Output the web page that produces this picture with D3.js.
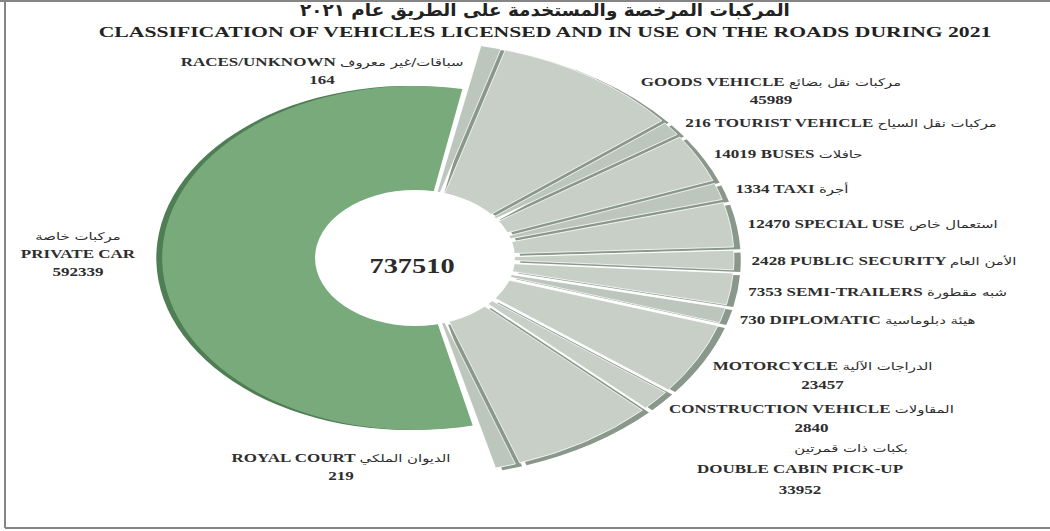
<!DOCTYPE html>
<html>
<head>
<meta charset="utf-8">
<script src="https://cdn.jsdelivr.net/npm/d3@7"></script>
<style>
  html, body { margin: 0; padding: 0; background: #fff; }
</style>
</head>
<body>
<script>
// values, clockwise from private car
const categoriesEn = ["PRIVATE CAR", "RACES/UNKNOWN", "GOODS VEHICLE", "TOURIST VEHICLE", "BUSES", "TAXI",
  "SPECIAL USE", "PUBLIC SECURITY", "SEMI-TRAILERS", "DIPLOMATIC", "MOTORCYCLE",
  "CONSTRUCTION VEHICLE", "DOUBLE CABIN PICK-UP", "ROYAL COURT"];
const categoriesAr = ["مركبات خاصة", "سباقات/غير معروف", "مركبات نقل بضائع", "مركبات نقل السياح", "حافلات", "أجرة",
  "استعمال خاص", "الأمن العام", "شبه مقطورة", "هيئة دبلوماسية", "الدراجات الآلية",
  "المقاولات", "بكبات ذات قمرتين", "الديوان الملكي"];
const vehicleCounts = [592339, 164, 45989, 216, 14019, 1334, 12470, 2428, 7353, 730, 23457, 2840, 33952, 219];

const titleAr = "المركبات المرخصة والمستخدمة على الطريق عام ٢٠٢١";
const titleEn = "CLASSIFICATION OF VEHICLES LICENSED AND IN USE ON THE ROADS DURING 2021";

function main(){
    const width = 1050;
    const height = 531;
    const cx = 415, cy = 258;
    const sx = 1.47;          // the picture is stretched sideways
    const textSx = 1.42;
    const innerR = 67, greenR = 172, greyR = 217;
    const rad = d => d * Math.PI / 180;

    const rows = categoriesEn.map((en, i) => ({en: en, ar: categoriesAr[i], value: vehicleCounts[i]}));
    const privateCar = rows[0];
    const others = rows.slice(1);

    const svg = d3.select("body").append("svg")
        .attr("width", width)
        .attr("height", height);

    // frame
    svg.append("path")
        .attr("d", "M0,1H1050M5,0V528M5,528H1050")
        .attr("fill", "none")
        .attr("stroke", "#858585")
        .attr("stroke-width", 2);

    // the small slices get a minimum share plus a linear part
    const weight = d3.scaleLinear()
        .domain([0, d3.max(others, d => d.value)])
        .range([4, 38]);

    const pie = d3.pie()
        .sort(null)
        .value(d => weight(d.value))
        .startAngle(rad(11.5))
        .endAngle(rad(165.8))
        .padAngle(rad(0.8));

    const greyArcs = pie(others);
    const greenArc = {data: privateCar, startAngle: rad(166.8), endAngle: rad(370.8), padAngle: 0};

    const arcGrey = d3.arc().innerRadius(innerR).outerRadius(greyR);
    const arcGreen = d3.arc().innerRadius(innerR).outerRadius(greenR);

    const pieG = svg.append("g")
        .attr("transform", `translate(${cx},${cy}) scale(${sx},1)`);

    // darker sides first, faces on top
    pieG.append("path")
        .attr("d", arcGreen(greenArc))
        .attr("transform", "translate(-4,0)")
        .attr("fill", "#4f7e54");

    pieG.append("g")
        .attr("transform", "translate(4.6,2.2)")
        .selectAll("path")
        .data(greyArcs)
        .enter()
        .append("path")
        .attr("d", arcGrey)
        .attr("fill", "#8a978b");

    pieG.append("path")
        .attr("d", arcGreen(greenArc))
        .attr("fill", "#78aa7c");

    pieG.append("g")
        .selectAll("path")
        .data(greyArcs)
        .enter()
        .append("path")
        .attr("d", arcGrey)
        .attr("fill", (d, i) => (d.endAngle - d.startAngle) < rad(6) ? "#bcc6bd" : "#c7cfc7")
        .attr("stroke", "#fff")
        .attr("stroke-width", 0.8)
        .attr("vector-effect", "non-scaling-stroke");

    pieG.append("circle")
        .attr("r", innerR + 1)
        .attr("fill", "#fff");

    // total in the hole
    svg.append("text")
        .attr("transform", `translate(${cx - 3},${cy + 15}) scale(${textSx},1)`)
        .attr("text-anchor", "middle")
        .attr("font-family", "Liberation Serif")
        .attr("font-weight", "bold")
        .attr("font-size", "20px")
        .attr("fill", "#2b2b2b")
        .text(d3.format("d")(d3.sum(vehicleCounts)));

    // titles, fitted to the width they take in the picture
    function fitted(str, x, y, w, size, family){
        const t = svg.append("text")
            .attr("text-anchor", "middle")
            .attr("font-family", family)
            .attr("font-weight", "bold")
            .attr("font-size", size)
            .attr("fill", "#222")
            .text(str);
        const len = t.node().getComputedTextLength();
        t.attr("transform", `translate(${x},${y}) scale(${w / len},1)`);
    }
    fitted(titleAr, 545, 16, 490, "17px", "DejaVu Sans");
    fitted(titleEn, 545, 37, 893, "15px", "Liberation Serif");

    // labels
    const labelLayout = {
        "RACES/UNKNOWN": {kind: "twoLine", x: 322, y: 66},
        "GOODS VEHICLE": {kind: "twoLine", x: 771, y: 86},
        "ROYAL COURT": {kind: "twoLine", x: 341, y: 462},
        "DOUBLE CABIN PICK-UP": {kind: "stacked", x: 800, y: 452, arDx: 36, gap: 21},
        "PRIVATE CAR": {kind: "stacked", x: 78, y: 240, arDx: 0, gap: 18},
        "MOTORCYCLE": {kind: "arcTwoLine"},
        "CONSTRUCTION VEHICLE": {kind: "arcTwoLine"}
    };

    function lineText(g, x, y, anchor){
        return g.append("text")
            .attr("x", x)
            .attr("y", y)
            .attr("text-anchor", anchor)
            .attr("font-family", "Liberation Serif")
            .attr("font-weight", "bold")
            .attr("font-size", "12px")
            .attr("fill", "#2e2e2e");
    }
    function addArabic(t, str){
        t.append("tspan")
            .attr("font-family", "DejaVu Sans")
            .attr("font-weight", "normal")
            .attr("font-size", "10.5px")
            .text(str);
    }

    const labelR = greyR + 12;
    const allArcs = [greenArc].concat(greyArcs);
    allArcs.forEach(a => {
        const d = a.data;
        const lay = labelLayout[d.en] || {kind: "arcOneLine"};
        let x = lay.x, y = lay.y;
        if (lay.kind.startsWith("arc")) {
            const mid = (a.startAngle + a.endAngle) / 2;
            x = cx + sx * labelR * Math.sin(mid);
            y = cy - labelR * Math.cos(mid) + 5;
        }
        const g = svg.append("g")
            .attr("transform", `translate(${x},${y}) scale(${textSx},1)`);

        if (lay.kind === "arcOneLine") {
            const t = lineText(g, 0, 0, "start");
            t.append("tspan").text(d.value + " " + d.en + "  ");
            addArabic(t, d.ar);
        } else if (lay.kind === "arcTwoLine") {
            const t = lineText(g, 0, 0, "start");
            t.append("tspan").text(d.en + "  ");
            addArabic(t, d.ar);
            const w = t.node().getComputedTextLength();
            lineText(g, w / 2, 19, "middle").text(d.value);
        } else if (lay.kind === "twoLine") {
            const t = lineText(g, 0, 0, "middle");
            t.append("tspan").text(d.en + "  ");
            addArabic(t, d.ar);
            lineText(g, 0, 18, "middle").text(d.value);
        } else {
            const t = lineText(g, lay.arDx, 0, "middle");
            addArabic(t, d.ar);
            lineText(g, 0, lay.gap, "middle").text(d.en);
            lineText(g, 0, lay.gap * 2, "middle").text(d.value);
        }
    });
}

main();
</script>
</body>
</html>
